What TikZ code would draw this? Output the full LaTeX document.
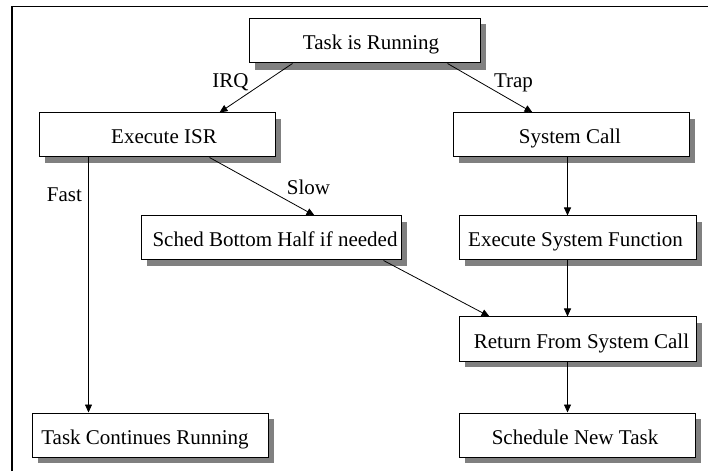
\documentclass[tikz,border=0pt]{standalone}
\usepackage{fontspec}
\setmainfont{Liberation Serif}
\usetikzlibrary{arrows.meta}

\definecolor{shadowgrey}{RGB}{128,128,128}

\begin{document}
\begin{tikzpicture}[x=1pt,y=1pt,
  box/.style={draw=black, line width=1pt, fill=white, rectangle, inner sep=0pt,
    minimum height=44pt, font=\fontsize{21}{21}\selectfont,
    text height=18pt, text depth=0pt},
  boxshadow/.style={fill=shadowgrey, draw=none},
  flow/.style={draw=black, line width=0.8pt, -{Triangle[length=8pt,width=7pt]}},
  tag/.style={font=\fontsize{21}{21}\selectfont, anchor=base, inner sep=0pt}]

\useasboundingbox (0,0) rectangle (708,471);

% frame along the left and top edges
\draw[line width=2pt] (12,0) -- (12,464.5);
\draw[line width=1.2pt] (11,464.5) -- (708,464.5);

% grey drop shadows, offset 6pt right and down from each box
\fill[boxshadow] (255,401) rectangle (486,447);
\fill[boxshadow] (45,308)  rectangle (281,352);
\fill[boxshadow] (459,308) rectangle (695,352);
\fill[boxshadow] (147,205) rectangle (407,249);
\fill[boxshadow] (465,205) rectangle (702,249);
\fill[boxshadow] (465,104) rectangle (702,148);
\fill[boxshadow] (38,8)    rectangle (274,52);
\fill[boxshadow] (465,8)   rectangle (701,52);

% boxes
\node[box, minimum width=231pt] (run)  at (364.5,430) {\hspace*{13pt}Task is Running};
\node[box, minimum width=236pt] (isr)  at (157,336)   {\hspace*{14pt}Execute ISR};
\node[box, minimum width=236pt] (sys)  at (571,336)   {System Call\hspace*{2pt}};
\node[box, minimum width=260pt] (sbh)  at (271,233)   {\hspace*{8pt}Sched Bottom Half if needed};
\node[box, minimum width=237pt] (esf)  at (577.5,233) {Execute System Function\hspace*{4pt}};
\node[box, minimum width=237pt] (ret)  at (577.5,132) {\hspace*{8pt}Return From System Call};
\node[box, minimum width=236pt] (cont) at (150,36)    {Task Continues Running\hspace*{10pt}};
\node[box, minimum width=236pt] (snt)  at (577,36)    {Schedule New Task\hspace*{4pt}};

% connectors
\draw[flow] ([xshift=44pt]run.south west) -- ([xshift=181pt]isr.north west);
\draw[flow] ([xshift=-33pt]run.south east) -- ([xshift=80pt]sys.north west);
\draw[flow] ([xshift=50pt]isr.south west) -- ([xshift=57pt]cont.north west);
\draw[flow] ([xshift=171pt]isr.south west) -- ([xshift=174pt]sbh.north west);
\draw[flow] ([xshift=115pt]sys.south west) -- ([xshift=109pt]esf.north west);
\draw[flow] ([xshift=-18pt]sbh.south east) -- ([xshift=31pt]ret.north west);
\draw[flow] ([xshift=109pt]esf.south west) -- ([xshift=109pt]ret.north west);
\draw[flow] ([xshift=109pt]ret.south west) -- ([xshift=109pt]snt.north west);

% connector labels
\node[tag] (irq)  at (230.5,383) {IRQ};
\node[tag] (trap) at (513.5,383) {Trap};
\node[tag] (fast) at (64.5,269)  {Fast};
\node[tag] (slow) at (308.5,276) {Slow};

\end{tikzpicture}
\end{document}
